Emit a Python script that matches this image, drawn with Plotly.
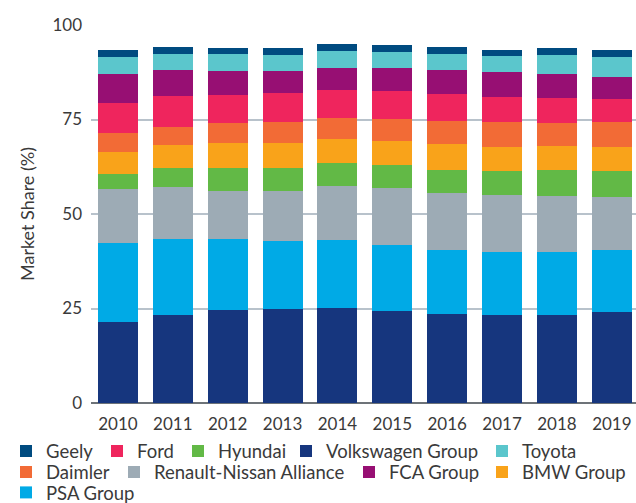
import plotly.graph_objects as go

years = ["2010", "2011", "2012", "2013", "2014", "2015", "2016", "2017", "2018", "2019"]

volkswagen = [21.5, 23.4, 24.7, 24.9, 25.2, 24.4, 23.6, 23.4, 23.4, 24.2]
psa = [20.9, 20.0, 18.7, 18.0, 18.0, 17.4, 16.9, 16.6, 16.6, 16.3]
renault_nissan = [14.2, 13.7, 12.6, 13.1, 14.2, 15.2, 15.0, 15.0, 14.8, 14.0]
hyundai = [4.1, 5.0, 6.1, 6.1, 6.1, 6.0, 6.1, 6.4, 6.8, 6.9]
bmw = [5.6, 6.1, 6.6, 6.6, 6.3, 6.3, 6.9, 6.3, 6.4, 6.3]
daimler = [5.0, 4.7, 5.3, 5.6, 5.6, 5.8, 6.1, 6.6, 6.0, 6.6]
ford = [8.1, 8.2, 7.4, 7.6, 7.4, 7.4, 7.1, 6.6, 6.7, 6.1]
fca = [7.7, 6.9, 6.4, 5.9, 5.8, 6.1, 6.3, 6.6, 6.3, 5.8]
toyota = [4.5, 4.3, 4.5, 4.2, 4.5, 4.2, 4.3, 4.2, 5.0, 5.3]
geely = [1.7, 1.8, 1.6, 1.9, 1.8, 1.8, 1.8, 1.6, 1.9, 1.8]

# (name, values, colour) in stacking order bottom -> top
series = [
    ("Volkswagen Group", volkswagen, "#16367e"),
    ("PSA Group", psa, "#00aae6"),
    ("Renault-Nissan Alliance", renault_nissan, "#9dabb5"),
    ("Hyundai", hyundai, "#62b946"),
    ("BMW Group", bmw, "#f9a31a"),
    ("Daimler", daimler, "#f26b36"),
    ("Ford", ford, "#ef255d"),
    ("FCA Group", fca, "#970f73"),
    ("Toyota", toyota, "#5bc6cc"),
    ("Geely", geely, "#004b80"),
]

# legend entry placement (pixel x where the label text starts, row centre y)
legend_pos = {
    "Geely": (44, 452), "Ford": (135, 452), "Hyundai": (216, 452),
    "Volkswagen Group": (324, 452), "Toyota": (520, 452),
    "Daimler": (44, 473), "Renault-Nissan Alliance": (152, 473),
    "FCA Group": (387, 473), "BMW Group": (520, 473),
    "PSA Group": (44, 493.5),
}

font_family = "Lato, 'Open Sans', sans-serif"
text_color = "#3a3a3a"
PLOT_LEFT, PLOT_RIGHT = 91.0, 636.0
PLOT_TOP, PLOT_BOTTOM = 25.0, 403.5

fig = go.Figure()
legend_layouts = {}
for i, (name, vals, color) in enumerate(series):
    key = "legend" if i == 0 else "legend%d" % (i + 1)
    tx, ty = legend_pos[name]
    legend_layouts[key] = dict(
        orientation="h",
        xref="paper", yref="paper",
        x=(tx - 38 - PLOT_LEFT) / (PLOT_RIGHT - PLOT_LEFT),
        y=(PLOT_BOTTOM - ty) / (PLOT_BOTTOM - PLOT_TOP),
        xanchor="left", yanchor="middle",
        font=dict(size=18.5, color=text_color, family=font_family),
        itemwidth=30,
        bgcolor="rgba(0,0,0,0)", borderwidth=0,
    )
    fig.add_trace(go.Bar(
        x=years, y=vals, name=name, legend=key, showlegend=True,
        marker=dict(color=color, line=dict(width=0)),
    ))

fig.update_layout(
    width=636, height=503,
    showlegend=True,
    barmode="stack", bargap=0.27,
    paper_bgcolor="white", plot_bgcolor="white",
    margin=dict(l=91, r=0, t=25, b=99.5, autoexpand=False),
    font=dict(family=font_family, size=17, color=text_color),
    xaxis=dict(
        range=[-0.49, 9.44], showgrid=False, showline=False, ticks="",
        tickfont=dict(size=17, color=text_color), automargin=False,
        tickangle=0, ticklabelstandoff=9,
    ),
    yaxis=dict(
        range=[0, 100], tickvals=[0, 25, 50, 75, 100],
        showgrid=True, gridcolor="#b8c2cb", gridwidth=2,
        zeroline=True, zerolinecolor="#6d7378", zerolinewidth=2,
        showline=False, ticks="", ticklabelstandoff=8, automargin=False,
        tickfont=dict(size=17, color=text_color),
        title=dict(text="Market Share (%)", font=dict(size=18, color=text_color), standoff=13),
    ),
    **legend_layouts,
)

fig.write_html(
    "out.html",
    config={"displayModeBar": False},
    post_script="document.body.style.margin='0';",
)
